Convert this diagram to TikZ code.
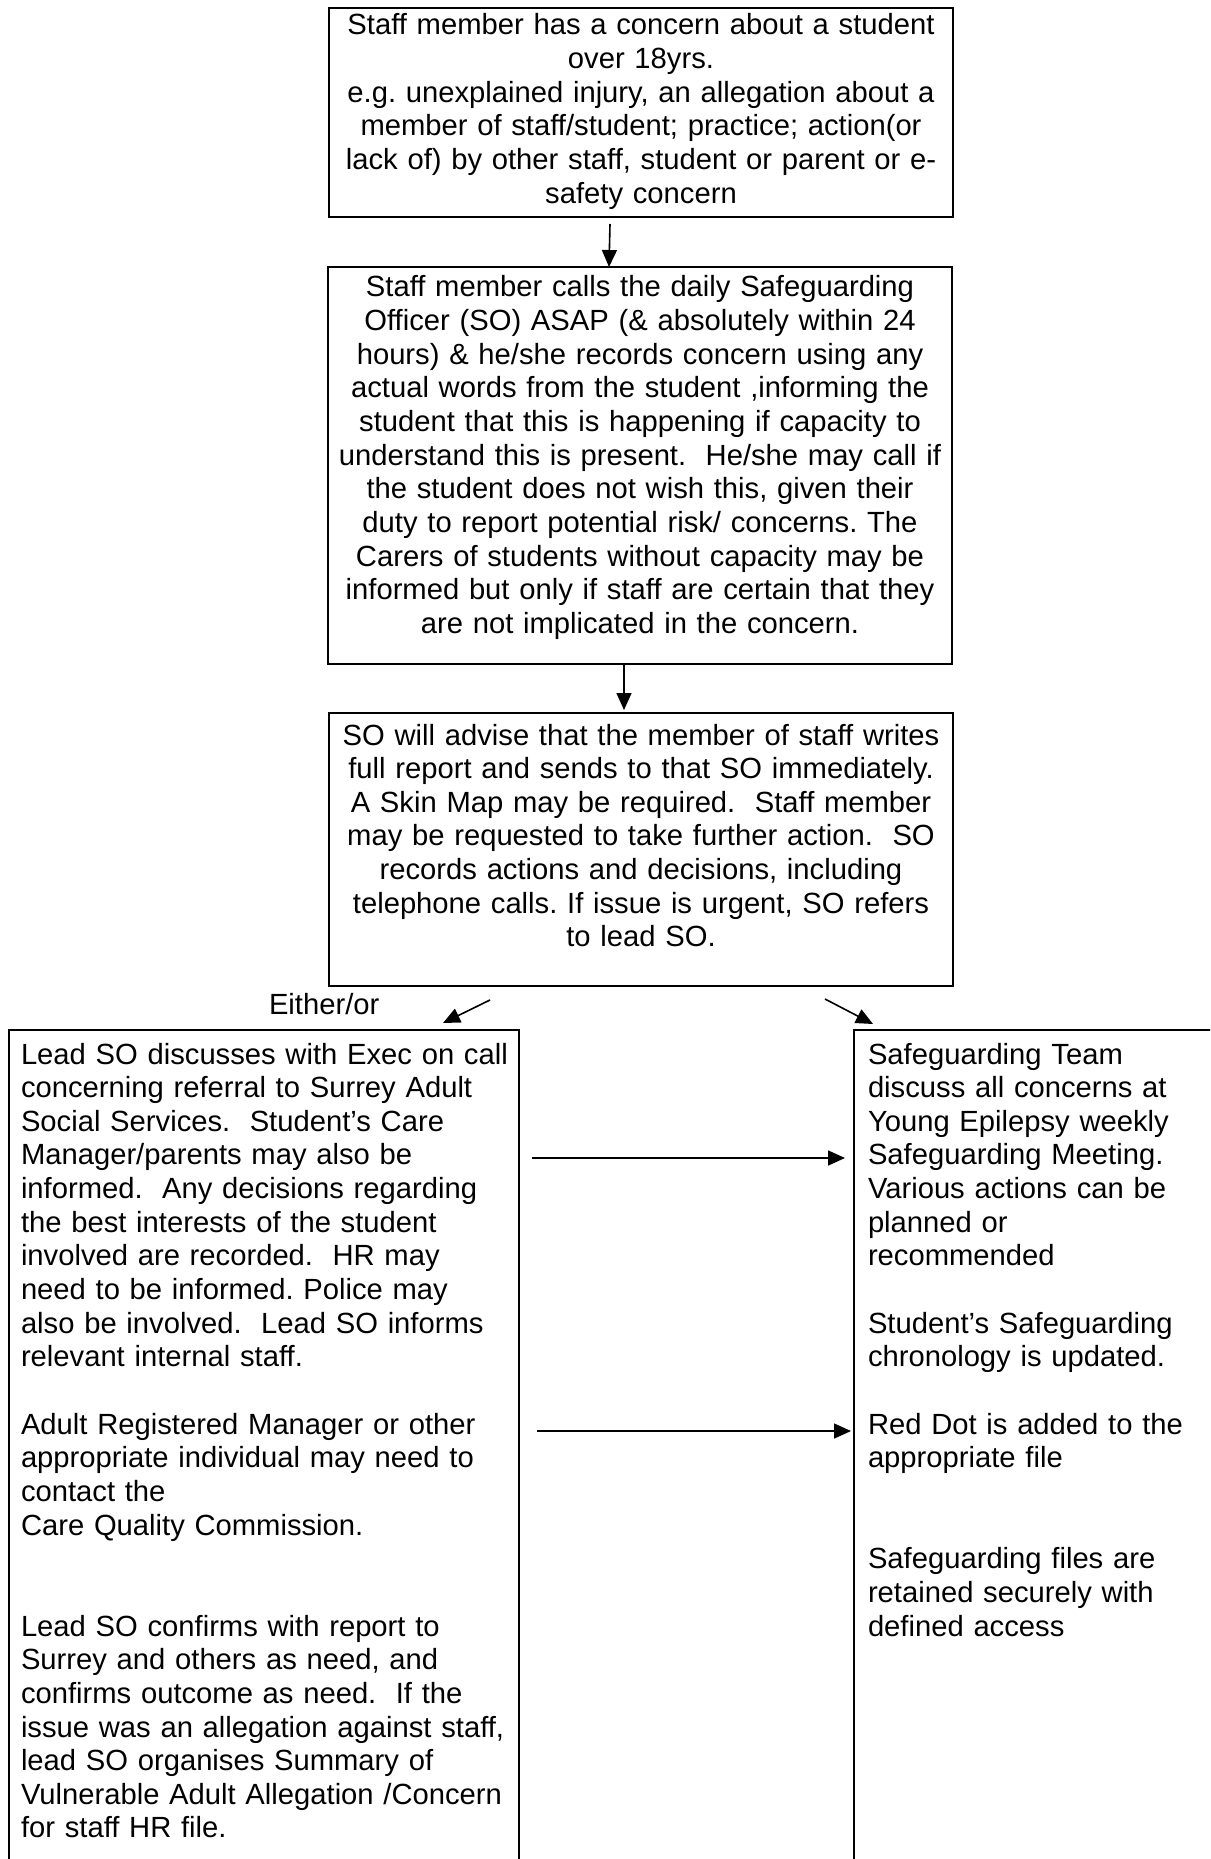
\documentclass[tikz,border=0pt]{standalone}
\usepackage{fontspec}
\setmainfont{Liberation Sans}
\usetikzlibrary{arrows.meta}
\begin{document}
\begin{tikzpicture}[x=1pt,y=-1pt,
  box/.style={draw, line width=2pt, inner sep=0pt, outer sep=0pt},
  txt/.style={inner sep=0pt, outer sep=0pt, font=\fontsize{29.2}{33.65}\selectfont\frenchspacing},
  ctxt/.style={txt, anchor=base, text width=620pt, align=center},
  ltxt/.style={txt, anchor=base west, align=left},
  arr/.style={line width=1.6pt, -{Triangle[length=17pt,width=15pt]}}
]
\fill[white] (0,0) rectangle (1210,1859);
\useasboundingbox (0,0) rectangle (1210,1859);
\clip (0,0) rectangle (1210,1859);

% boxes
\node[box, minimum width=624pt, minimum height=209pt] (b1) at (641,112.5) {};
\node[box, minimum width=624pt, minimum height=397pt] (b2) at (640,465.5) {};
\node[box, minimum width=624pt, minimum height=273pt] (b3) at (641,849.5) {};
\node[box, minimum width=510pt, minimum height=870pt] (b4) at (264,1465) {};
\node[box, minimum width=386pt, minimum height=870pt] (b5) at (1047,1465) {};

% texts
\node[ctxt] (t1) at (641,35) {Staff member has a concern about a student\\
over 18yrs.\\
e.g. unexplained injury, an allegation about a\\
member of staff/student; practice; action(or\\
lack of) by other staff, student or parent or e-\\
safety concern};

\node[ctxt] (t2) at (640,297) {Staff member calls the daily Safeguarding\\
Officer (SO) ASAP (\& absolutely within 24\\
hours) \& he/she records concern using any\\
actual words from the student ,informing the\\
student that this is happening if capacity to\\
understand this is present.\ \ He/she may call if\\
the student does not wish this, given their\\
duty to report potential risk/ concerns. The\\
Carers of students without capacity may be\\
informed but only if staff are certain that they\\
are not implicated in the concern.};

\node[ctxt] (t3) at (641,745) {SO will advise that the member of staff writes\\
full report and sends to that SO immediately.\\
A Skin Map may be required.\ \ Staff member\\
may be requested to take further action.\ \ SO\\
records actions and decisions, including\\
telephone calls. If issue is urgent, SO refers\\
to lead SO.};

\node[ltxt, text width=500pt] (t4) at (21,1064) {Lead SO discusses with Exec on call\\
concerning referral to Surrey Adult\\
Social Services.\ \ Student’s Care\\
Manager/parents may also be\\
informed.\ \ Any decisions regarding\\
the best interests of the student\\
involved are recorded.\ \ HR may\\
need to be informed. Police may\\
also be involved.\ \ Lead SO informs\\
relevant internal staff.\\[33.65pt]
Adult Registered Manager or other\\
appropriate individual may need to\\
contact the\\
Care Quality Commission.\\[67.3pt]
Lead SO confirms with report to\\
Surrey and others as need, and\\
confirms outcome as need.\ \ If the\\
issue was an allegation against staff,\\
lead SO organises Summary of\\
Vulnerable Adult Allegation /Concern\\
for staff HR file.};

\node[ltxt, text width=345pt] (t5) at (868,1064) {Safeguarding Team\\
discuss all concerns at\\
Young Epilepsy weekly\\
Safeguarding Meeting.\\
Various actions can be\\
planned or\\
recommended\\[33.65pt]
Student’s Safeguarding\\
chronology is updated.\\[33.65pt]
Red Dot is added to the\\
appropriate file\\[67.3pt]
Safeguarding files are\\
retained securely with\\
defined access};

\node[ltxt] (either) at (269,1014) {Either/or};

% connectors
\draw[arr] ([xshift=-31pt,yshift=-7pt]b1.south) -- ([xshift=-31pt]b2.north);
\draw[arr] ([xshift=-16pt]b2.south) -- ([xshift=-17pt,yshift=3pt]b3.north);

\coordinate (d1s) at (490,1000);
\coordinate (d1e) at (443,1023);
\coordinate (d2s) at (825,999);
\coordinate (d2e) at (873,1024);
\coordinate (h1s) at (532,1158);
\coordinate (h1e) at (845,1158);
\coordinate (h2s) at (537,1431);
\coordinate (h2e) at (851,1431);
\draw[arr] (d1s) -- (d1e);
\draw[arr] (d2s) -- (d2e);
\draw[arr] (h1s) -- (h1e);
\draw[arr] (h2s) -- (h2e);
\end{tikzpicture}
\end{document}
